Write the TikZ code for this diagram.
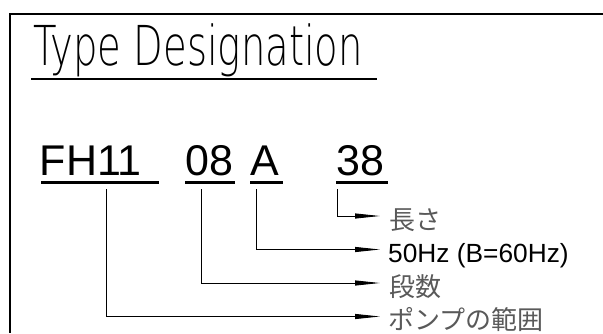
\documentclass[tikz,border=0pt]{standalone}
\usepackage{fontspec}
\usetikzlibrary{arrows.meta}
\setmainfont{Liberation Sans}
\newfontfamily\titlefont[FakeStretch=0.7]{DejaVu Sans ExtraLight}
\newfontfamily\jpfont{Noto Sans CJK JP}
\tikzset{
  codetext/.style={anchor=base west, inner sep=0pt, font=\fontsize{43}{43}\selectfont},
  labeltext/.style={anchor=base west, inner sep=0pt, font=\fontsize{26.3}{27}\selectfont},
  jptext/.style={anchor=base west, inner sep=0pt, text=black!65, font=\jpfont\fontsize{26}{27}\selectfont},
  uline/.style={line width=3pt},
  conn/.style={line width=0.9pt, -{Triangle[length=25pt,width=5pt]}},
}
\begin{document}
\begin{tikzpicture}[x=1pt,y=-1pt]
\useasboundingbox (0,0) rectangle (603,333);
% frame
\draw[line width=2pt] (603,13.5) -- (10,13.5) -- (10,333);
% title
\node[anchor=base west, inner sep=0pt, font=\titlefont\fontsize{55}{55}\selectfont] (title) at (33,65) {Type Designation};
\draw[line width=1.2pt] (31,79) -- (377,79);
% code parts
\node[codetext] (fh) at (39.6,175) {FH11};
\node[codetext] (n08) at (185,175) {08};
\node[codetext] (nA) at (250,175) {A};
\node[codetext] (n38) at (336.5,175) {38};
\draw[uline] (41,182) -- (159,182);
\draw[uline] (185,182) -- (235,182);
\draw[uline] (250,182) -- (283,182);
\draw[uline] (336,182) -- (388,182);
% connector starts and ends
\coordinate (s38) at (337.5,189);
\coordinate (sA) at (256.7,189);
\coordinate (s08) at (201.7,189);
\coordinate (sfh) at (106,189);
\coordinate (e38) at (380,216);
\coordinate (eA) at (380,249.5);
\coordinate (e08) at (380,283);
\coordinate (efh) at (380,316.5);
\draw[conn] (s38) |- (e38);
\draw[conn] (sA) |- (eA);
\draw[conn] (s08) |- (e08);
\draw[conn] (sfh) |- (efh);
% labels
\node[jptext] (l38) at (389,229.5) {長さ};
\node[labeltext] (lA) at (388,262.5) {50Hz (B=60Hz)};
\node[jptext] (l08) at (389,296.5) {段数};
\node[jptext] (lfh) at (388,329.5) {ポンプの範囲};
\end{tikzpicture}
\end{document}
